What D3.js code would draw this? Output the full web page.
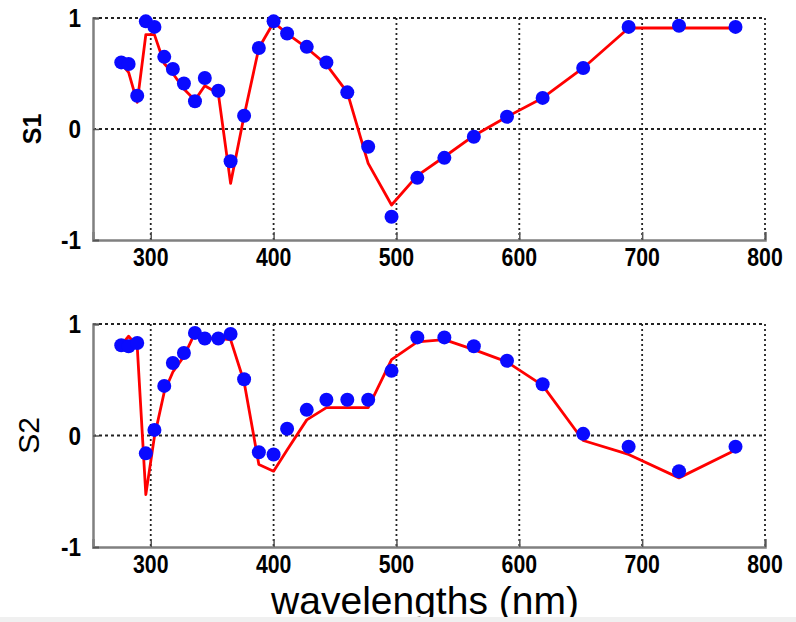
<!DOCTYPE html>
<html>
<head>
<meta charset="utf-8">
<script src="https://cdn.jsdelivr.net/npm/d3@7"></script>
<style>
  body { margin: 0; background: #fff; }
  text { font-family: 'Liberation Sans', Arial, sans-serif; }
</style>
</head>
<body>
<svg width="796" height="622"></svg>
<script>
// values
const wavelengths = [276, 282, 289, 296, 303, 311, 318, 327, 336, 344, 355, 365, 376, 388, 400,
  411, 427, 443, 460, 477, 496, 517, 539, 563, 590, 619, 652, 689, 730, 776];

const s1Measured = [0.60, 0.585, 0.30, 0.97, 0.92, 0.65, 0.54, 0.41, 0.25, 0.46, 0.345, -0.29, 0.12, 0.73, 0.97,
  0.86, 0.74, 0.60, 0.33, -0.16, -0.79, -0.44, -0.26, -0.07, 0.11, 0.28, 0.55, 0.92, 0.93, 0.92];
const s1Fitted = [0.59, 0.51, 0.24, 0.85, 0.85, 0.59, 0.50, 0.36, 0.26, 0.39, 0.32, -0.49, 0.12, 0.73, 0.96,
  0.86, 0.73, 0.58, 0.33, -0.31, -0.685, -0.42, -0.25, -0.06, 0.11, 0.28, 0.55, 0.91, 0.91, 0.91];

const s2Measured = [0.81, 0.80, 0.83, -0.16, 0.05, 0.445, 0.65, 0.74, 0.92, 0.87, 0.87, 0.91, 0.505, -0.15, -0.17,
  0.06, 0.23, 0.32, 0.32, 0.32, 0.58, 0.88, 0.88, 0.80, 0.67, 0.46, 0.015, -0.10, -0.32, -0.10];
const s2Fitted = [0.81, 0.89, 0.80, -0.53, -0.01, 0.39, 0.57, 0.71, 0.92, 0.87, 0.87, 0.86, 0.48, -0.26, -0.32,
  -0.13, 0.14, 0.25, 0.25, 0.25, 0.68, 0.84, 0.86, 0.77, 0.66, 0.45, -0.045, -0.17, -0.38, -0.13];

const xTicks = [300, 400, 500, 600, 700, 800],
    yTicks = [-1, 0, 1];

let svg = d3.select('svg');

const left = 93,
    right = 765,
    xDomain = [253, 800];

let x = d3.scaleLinear().domain(xDomain).range([left, right]);

const panels = [
  {label: 'S1', measured: s1Measured, fitted: s1Fitted, top: 18, bottom: 240,
    labelX: 32, labelSize: 25, labelWeight: 'bold'},
  {label: 'S2', measured: s2Measured, fitted: s2Fitted, top: 324, bottom: 547,
    labelX: 28, labelSize: 30, labelWeight: 'normal'}
];

panels.forEach((p) => {
  let y = d3.scaleLinear().domain([-1, 1]).range([p.bottom, p.top]);
  let g = svg.append('g');

  // dotted grid
  g.append('g')
    .selectAll('line')
    .data(xTicks)
    .enter().append('line')
      .attr('x1', (d) => x(d)).attr('x2', (d) => x(d))
      .attr('y1', p.top).attr('y2', p.bottom)
      .attr('stroke', '#222')
      .attr('stroke-width', 1.8)
      .attr('stroke-dasharray', '2,3');

  g.append('g')
    .selectAll('line')
    .data([0, 1])
    .enter().append('line')
      .attr('x1', left).attr('x2', right)
      .attr('y1', (d) => y(d)).attr('y2', (d) => y(d))
      .attr('stroke', '#222')
      .attr('stroke-width', 1.8)
      .attr('stroke-dasharray', '3,3');

  // axes, ticks pointing inward
  let xAxis = g.append('g')
      .attr('transform', `translate(0, ${p.bottom})`)
      .call(d3.axisTop(x).tickValues(xTicks).tickSize(8).tickFormat(''));

  let yAxis = g.append('g')
      .attr('transform', `translate(${left}, 0)`)
      .call(d3.axisRight(y).tickValues(yTicks).tickSize(6).tickFormat(''));

  [xAxis, yAxis].forEach((a) => {
    a.select('.domain').attr('stroke', '#808080').attr('stroke-width', 2.5);
    a.selectAll('.tick line').attr('stroke', '#555').attr('stroke-width', 1.5);
  });

  g.append('g')
    .selectAll('text')
    .data(xTicks)
    .enter().append('text')
      .attr('transform', (d) => `translate(${x(d)}, ${p.bottom + 26}) scale(0.85, 1)`)
      .attr('text-anchor', 'middle')
      .attr('font-size', 25)
      .attr('font-weight', 'bold')
      .text((d) => d);

  g.append('g')
    .selectAll('text')
    .data(yTicks)
    .enter().append('text')
      .attr('transform', (d) => `translate(81, ${y(d) + 9}) scale(0.9, 1)`)
      .attr('text-anchor', 'end')
      .attr('font-size', 25)
      .attr('font-weight', 'bold')
      .text((d) => d);

  g.append('text')
    .attr('transform', `translate(${p.labelX}, ${(p.top + p.bottom) / 2}) rotate(-90)`)
    .attr('dy', '0.36em')
    .attr('text-anchor', 'middle')
    .attr('font-size', p.labelSize)
    .attr('font-weight', p.labelWeight)
    .text(p.label);

  const line = d3.line()
      .x((d, i) => x(wavelengths[i]))
      .y((d) => y(d));

  g.append('path')
    .attr('d', line(p.fitted))
    .attr('fill', 'none')
    .attr('stroke', '#ff0000')
    .attr('stroke-width', 2.8)
    .attr('stroke-linejoin', 'round');

  g.append('g')
    .selectAll('circle')
    .data(p.measured)
    .enter().append('circle')
      .attr('cx', (d, i) => x(wavelengths[i]))
      .attr('cy', (d) => y(d))
      .attr('r', 7)
      .attr('fill', '#0a0aff');
});

svg.append('text')
  .attr('x', 425)
  .attr('y', 614)
  .attr('text-anchor', 'middle')
  .attr('font-size', 39)
  .text('wavelengths (nm)');

// light strip along the bottom edge
svg.append('rect')
  .attr('x', 0).attr('y', 617)
  .attr('width', 796).attr('height', 5)
  .attr('fill', '#f0f0f0');
</script>
</body>
</html>
